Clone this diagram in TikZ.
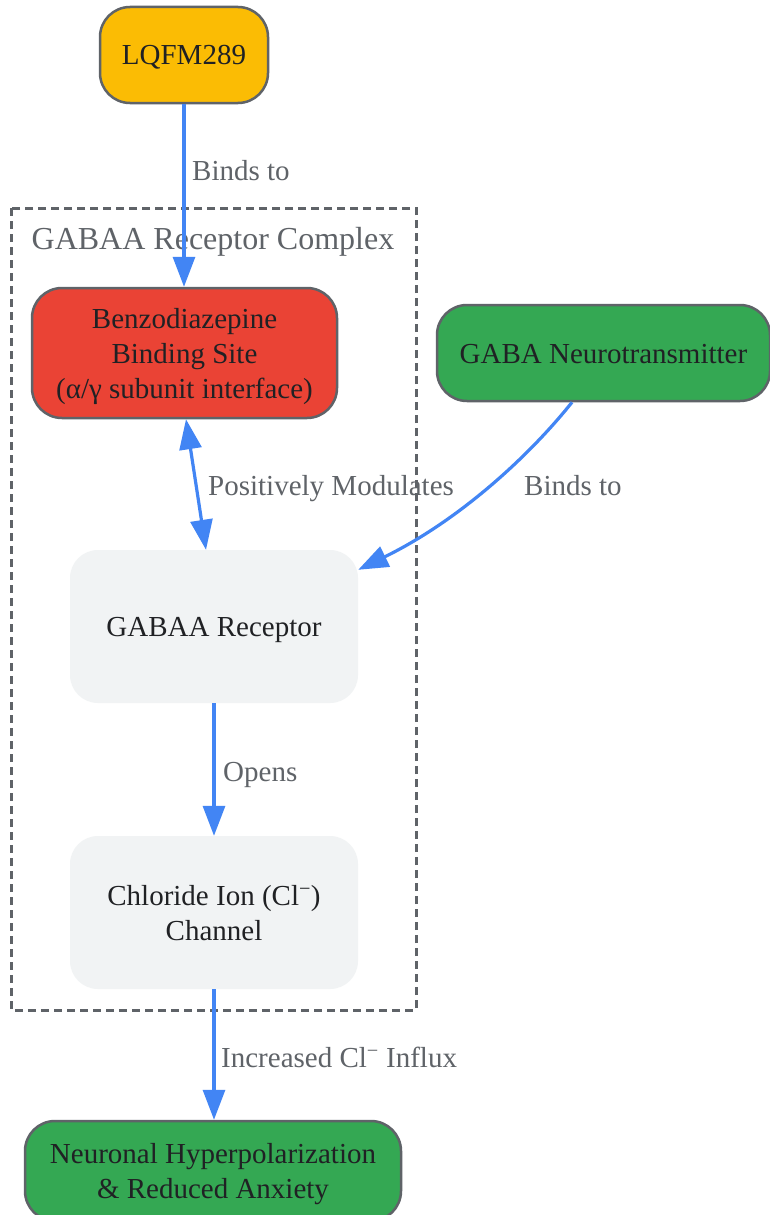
\documentclass[tikz,border=0pt]{standalone}
\usepackage{fontspec}
\setmainfont{Liberation Serif}
\usetikzlibrary{arrows.meta}
\definecolor{lqc}{HTML}{FBBC04}
\definecolor{redc}{HTML}{EA4335}
\definecolor{greenc}{HTML}{34A853}
\definecolor{grayc}{HTML}{F1F3F4}
\definecolor{edgec}{HTML}{4285F4}
\definecolor{linec}{HTML}{5F6368}
\definecolor{textc}{HTML}{202124}
\begin{document}
\begin{tikzpicture}[x=1pt,y=-1pt,
 box/.style={rounded corners=30pt, align=center, inner sep=0pt, text=textc, font=\fontsize{29}{35}\selectfont, text height=20pt, text depth=0pt},
 twolines/.style={text height=55pt},
 threelines/.style={text height=90pt},
 bordered/.style={box, draw=linec, line width=2.5pt},
 flat/.style={box, fill=grayc, rounded corners=28pt, minimum width=288pt, minimum height=153pt},
 elabel/.style={anchor=base west, text=linec, font=\fontsize{29}{35}\selectfont, inner sep=0pt},
 arr/.style={draw=edgec, line width=3.2pt, -{Triangle[length=30pt,width=22pt]}},
 darr/.style={draw=edgec, line width=3.2pt, {Triangle[length=30pt,width=22pt]}-{Triangle[length=30pt,width=22pt]}},
]
\useasboundingbox (0,0) rectangle (769,1215);
\fill[white] (0,0) rectangle (769,1215);

\draw[linec, line width=3pt, dash pattern=on 8pt off 5pt] (11,208) rectangle (416,1010);
\node[anchor=base, text=linec, inner sep=0pt, font=\fontsize{32}{38}\selectfont] (cl) at (213,249.5) {GABAA Receptor Complex};

\node[bordered, fill=lqc, minimum width=168pt, minimum height=96pt] (lq) at (184,55) {LQFM289};
\node[bordered, threelines, fill=redc, minimum width=305pt, minimum height=130pt] (bz) at (184.5,353) {Benzodiazepine\\Binding Site\\(α/γ subunit interface)};
\node[bordered, fill=greenc, minimum width=333pt, minimum height=96pt] (gn) at (603.5,353) {GABA Neurotransmitter};
\node[flat] (rc) at (214,626.5) {GABAA Receptor};
\node[flat, twolines] (ch) at (214,912.5) {Chloride Ion (Cl\textsuperscript{−})\\Channel};
\node[bordered, twolines, fill=greenc, minimum width=376pt, minimum height=100pt] (nh) at (213,1171) {Neuronal Hyperpolarization\\\& Reduced Anxiety};

\node[elabel] (l1) at (192,180) {Binds to};
\node[elabel] (l2) at (208,495) {Positively Modulates};
\node[elabel] (l3) at (524,495) {Binds to};
\node[elabel] (l4) at (223,781) {Opens};
\node[elabel] (l5) at (221,1067) {Increased Cl\textsuperscript{−} Influx};

\draw[arr] (lq) -- (lq |- bz.north);
\draw[darr] ([xshift=1.5pt]bz.south) -- ([xshift=-8pt]rc.north);
\draw[arr] ([xshift=-31.5pt]gn.south) .. controls (530,455) and (460,520) .. ([yshift=-20pt]rc.north east);
\draw[arr] (rc) -- (ch);
\draw[arr] (ch) -- (ch |- nh.north);
\end{tikzpicture}
\end{document}
